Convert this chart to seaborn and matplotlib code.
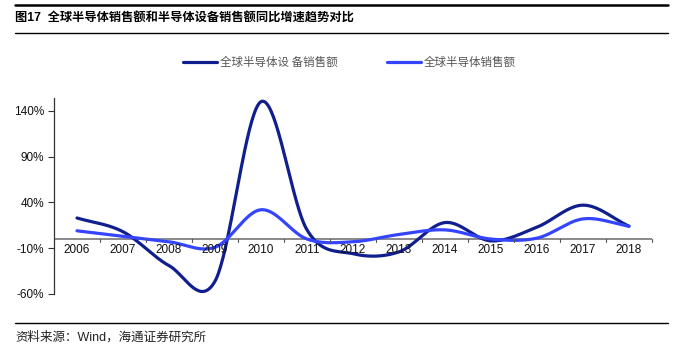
import numpy as np
import pandas as pd
import matplotlib
matplotlib.use("Agg")
import matplotlib.pyplot as plt
import seaborn as sns

# Year-over-year growth, %
years = ["2006", "2007", "2008", "2009", "2010", "2011", "2012",
         "2013", "2014", "2015", "2016", "2017", "2018"]
equipment_growth = [23, 8, -29, -46, 150, 10, -16, -14, 18, -2, 13, 37, 14]
chip_growth = [9, 3, -3, -9, 32, 0, -3, 5, 10, 0, 1, 22, 14]

series_names = ["全球半导体设 备销售额", "全球半导体销售额"]
series_colors = ["#101E8E", "#3545FF"]
y_ticks = [-60, -10, 40, 90, 140]

title_text = "图17  全球半导体销售额和半导体设备销售额同比增速趋势对比"
source_text = "资料来源：Wind，海通证券研究所"

sns.set_theme(style="white")
plt.rcParams["font.family"] = ["Liberation Sans", "Noto Sans CJK SC", "DejaVu Sans"]
cjk_family = ["Noto Sans CJK SC", "DejaVu Sans"]


def smooth(values, n=40):
    """Catmull-Rom curve through the yearly points (Excel-style smoothed line)."""
    y = np.asarray(values, dtype=float)
    x = np.arange(len(y), dtype=float)
    px = np.concatenate([[2 * x[0] - x[1]], x, [2 * x[-1] - x[-2]]])
    py = np.concatenate([[2 * y[0] - y[1]], y, [2 * y[-1] - y[-2]]])
    xs, ys = [], []
    for i in range(1, len(px) - 2):
        t = np.linspace(0, 1, n, endpoint=False)
        for arr, out in ((px, xs), (py, ys)):
            p0, p1, p2, p3 = arr[i - 1], arr[i], arr[i + 1], arr[i + 2]
            out.extend(0.5 * ((2 * p1) + (-p0 + p2) * t
                              + (2 * p0 - 5 * p1 + 4 * p2 - p3) * t ** 2
                              + (-p0 + 3 * p1 - 3 * p2 + p3) * t ** 3))
    xs.append(x[-1])
    ys.append(y[-1])
    return np.array(xs), np.array(ys)


frames = []
for name, vals in zip(series_names, [equipment_growth, chip_growth]):
    sx, sy = smooth(vals)
    frames.append(pd.DataFrame({"x": sx, "y": sy, "series": name}))
df = pd.concat(frames, ignore_index=True)

fig = plt.figure(figsize=(6.8, 3.47), dpi=100)
ax = fig.add_axes([54 / 680, 1 - 294 / 347, 598 / 680, 196 / 347])

sns.lineplot(data=df, x="x", y="y", hue="series", palette=series_colors,
             hue_order=series_names, sort=False, linewidth=2.3, ax=ax,
             legend=False)

ax.set_xlim(-0.5, len(years) - 0.5)
ax.set_ylim(-60, 154)
ax.set_xlabel("")
ax.set_ylabel("")

# y axis: left spine with outward ticks
for s in ["top", "right", "bottom"]:
    ax.spines[s].set_visible(False)
ax.spines["left"].set_color("#333333")
ax.spines["left"].set_linewidth(0.9)
ax.set_yticks(y_ticks)
ax.set_yticklabels([f"{v}%" for v in y_ticks], fontsize=8.5, color="#111111")
ax.tick_params(axis="y", direction="out", length=4, width=0.8,
               color="#333333", pad=3, left=True)

# category axis drawn at zero with ticks between categories
ax.axhline(0, color="#808080", linewidth=1.3, zorder=1)
ax.set_xticks([])
for b in np.arange(-0.5, len(years), 1.0)[1:]:
    ax.plot([b, b], [0, -3], color="#555555", linewidth=0.8, clip_on=False)
for i, yr in enumerate(years):
    ax.text(i, -5, yr, ha="center", va="top", fontsize=8.5, color="#111111")

# legend
for lx, name, col in zip([183, 387], series_names, series_colors):
    fig.add_artist(plt.Line2D([lx / 680, (lx + 34) / 680],
                              [1 - 62 / 347] * 2, color=col, linewidth=2.3))
    fig.text((lx + 37) / 680, 1 - 62 / 347, name, fontsize=8.3,
             color="#555555", va="center", ha="left", family=cjk_family)

# title band
fig.add_artist(plt.Line2D([15 / 680, 668 / 680], [1 - 5 / 347] * 2,
                          color="black", linewidth=1.8))
fig.add_artist(plt.Line2D([15 / 680, 668 / 680], [1 - 33 / 347] * 2,
                          color="black", linewidth=1.0))
fig.text(15 / 680, 1 - 19 / 347, title_text, fontsize=8.8, fontweight="bold",
         va="center", ha="left", color="black")

# source note
fig.add_artist(plt.Line2D([15 / 680, 668 / 680], [1 - 323 / 347] * 2,
                          color="black", linewidth=1.0))
fig.text(15 / 680, 1 - 337 / 347, source_text, fontsize=9,
         va="center", ha="left", color="#222222")

fig.savefig("out.png", dpi=100)
